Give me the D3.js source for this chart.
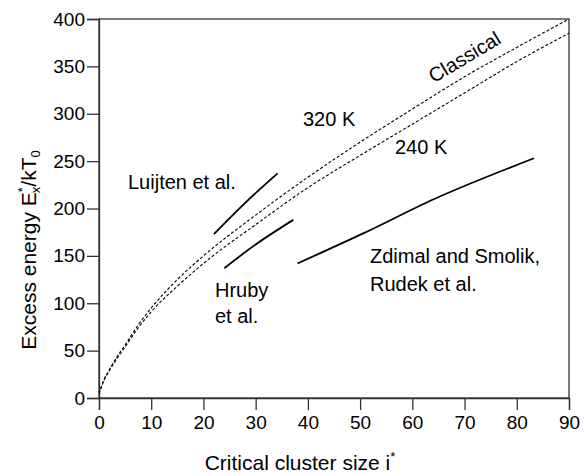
<!DOCTYPE html>
<html><head><meta charset="utf-8">
<script src="https://cdn.jsdelivr.net/npm/d3@7"></script>
<style>body{margin:0;background:#fff}svg{display:block}text{font-family:"Liberation Sans",Arial,sans-serif;fill:#000}</style>
</head><body><div id="c"></div>
<script>
// Data
const iGrid      = [0, 1, 2, 3.5, 5, 7.5, 10, 15, 20, 30, 40, 50, 60, 70, 80, 90];
const classical  = [5, 20, 30, 44, 56, 77, 95, 125, 150, 193, 233, 270, 305, 339, 370, 400];
const k240       = [4, 19, 29, 42, 54, 74, 91, 118, 142, 183, 222, 256, 289, 322, 355, 385];
const luijtenI   = [22, 28, 34.2];
const luijtenE   = [173, 206, 237];
const hrubyI     = [24, 30, 37.2];
const hrubyE     = [137, 162, 188];
const zdimalI    = [38, 50.7, 64.2, 83.3];
const zdimalE    = [142, 174, 210, 253];
const xTicks     = [0,10,20,30,40,50,60,70,80,90];
const yTicks     = [0,50,100,150,200,250,300,350,400];

const W=584,H=476;
const m={l:99,r:15,t:19,b:78};
const svg=d3.select("#c").append("svg").attr("width",W).attr("height",H);
const x=d3.scaleLinear().domain([0,90]).range([m.l,W-m.r]);
const y=d3.scaleLinear().domain([0,400]).range([H-m.b,m.t]);

svg.append("defs").append("clipPath").attr("id","clip").append("rect")
  .attr("x",x(0)).attr("y",y(400)).attr("width",x(90)-x(0)).attr("height",y(0)-y(400));

svg.append("rect").attr("x",x(0)).attr("y",y(400)).attr("width",x(90)-x(0)).attr("height",y(0)-y(400))
  .attr("fill","none").attr("stroke","#333").attr("stroke-width",1.3);

const xa=svg.append("g").attr("transform",`translate(0,${y(0)})`)
  .call(d3.axisBottom(x).tickValues(xTicks).tickSize(12).tickPadding(6).tickFormat(d3.format("d")));
const ya=svg.append("g").attr("transform",`translate(${x(0)},0)`)
  .call(d3.axisLeft(y).tickValues(yTicks).tickSize(12).tickPadding(2).tickFormat(d3.format("d")));
[xa,ya].forEach(a=>{a.select(".domain").attr("stroke","#333").attr("stroke-width",1.3);
  a.selectAll(".tick line").attr("stroke","#333").attr("stroke-width",1.3);
  a.selectAll(".tick text").attr("font-size",19).attr("font-family","Liberation Sans, Arial, sans-serif").attr("fill","#000");});

const line=d3.line().x(d=>x(d[0])).y(d=>y(d[1])).curve(d3.curveMonotoneX);
const g=svg.append("g").attr("clip-path","url(#clip)");
function dashed(vals){
  g.append("path").datum(iGrid.map((v,i)=>[v,vals[i]])).attr("d",line)
   .attr("fill","none").attr("stroke","#000").attr("stroke-width",1.1).attr("stroke-dasharray","3,2");
}
dashed(classical); dashed(k240);
function solid(I,E){
  g.append("path").datum(I.map((v,i)=>[v,E[i]])).attr("d",line)
   .attr("fill","none").attr("stroke","#000").attr("stroke-width",1.8);
}
solid(luijtenI,luijtenE); solid(hrubyI,hrubyE); solid(zdimalI,zdimalE);

function label(txt,xp,yp,opts={}){
  const t=svg.append("text").attr("x",xp).attr("y",yp).attr("font-size",opts.fs||20).text(txt);
  if(opts.rot) t.attr("transform",`rotate(${opts.rot},${xp},${yp})`).attr("text-anchor","middle");
  return t;
}
label("Classical",468,63,{rot:-31});
label("320 K",303,126);
label("240 K",395,154);
label("Luijten et al.",128,189);
label("Hruby",215,297);
label("et al.",215,323);
label("Zdimal and Smolik,",370,263);
label("Rudek et al.",370,291);

const xt=svg.append("text").attr("x",300).attr("y",470).attr("text-anchor","middle").attr("font-size",21);
xt.append("tspan").text("Critical cluster size i");
xt.append("tspan").attr("dy",-9).attr("font-size",13).text("*");

const yt=svg.append("text").attr("transform","translate(36,250) rotate(-90)").attr("text-anchor","middle").attr("font-size",21);
yt.append("tspan").text("Excess energy E");
yt.append("tspan").attr("dy",-9).attr("font-size",13).text("*");
yt.append("tspan").attr("dx",-6).attr("dy",13).attr("font-size",13).text("x");
yt.append("tspan").attr("dy",-4).text("/kT");
yt.append("tspan").attr("dy",4).attr("font-size",13).text("0");
</script></body></html>
